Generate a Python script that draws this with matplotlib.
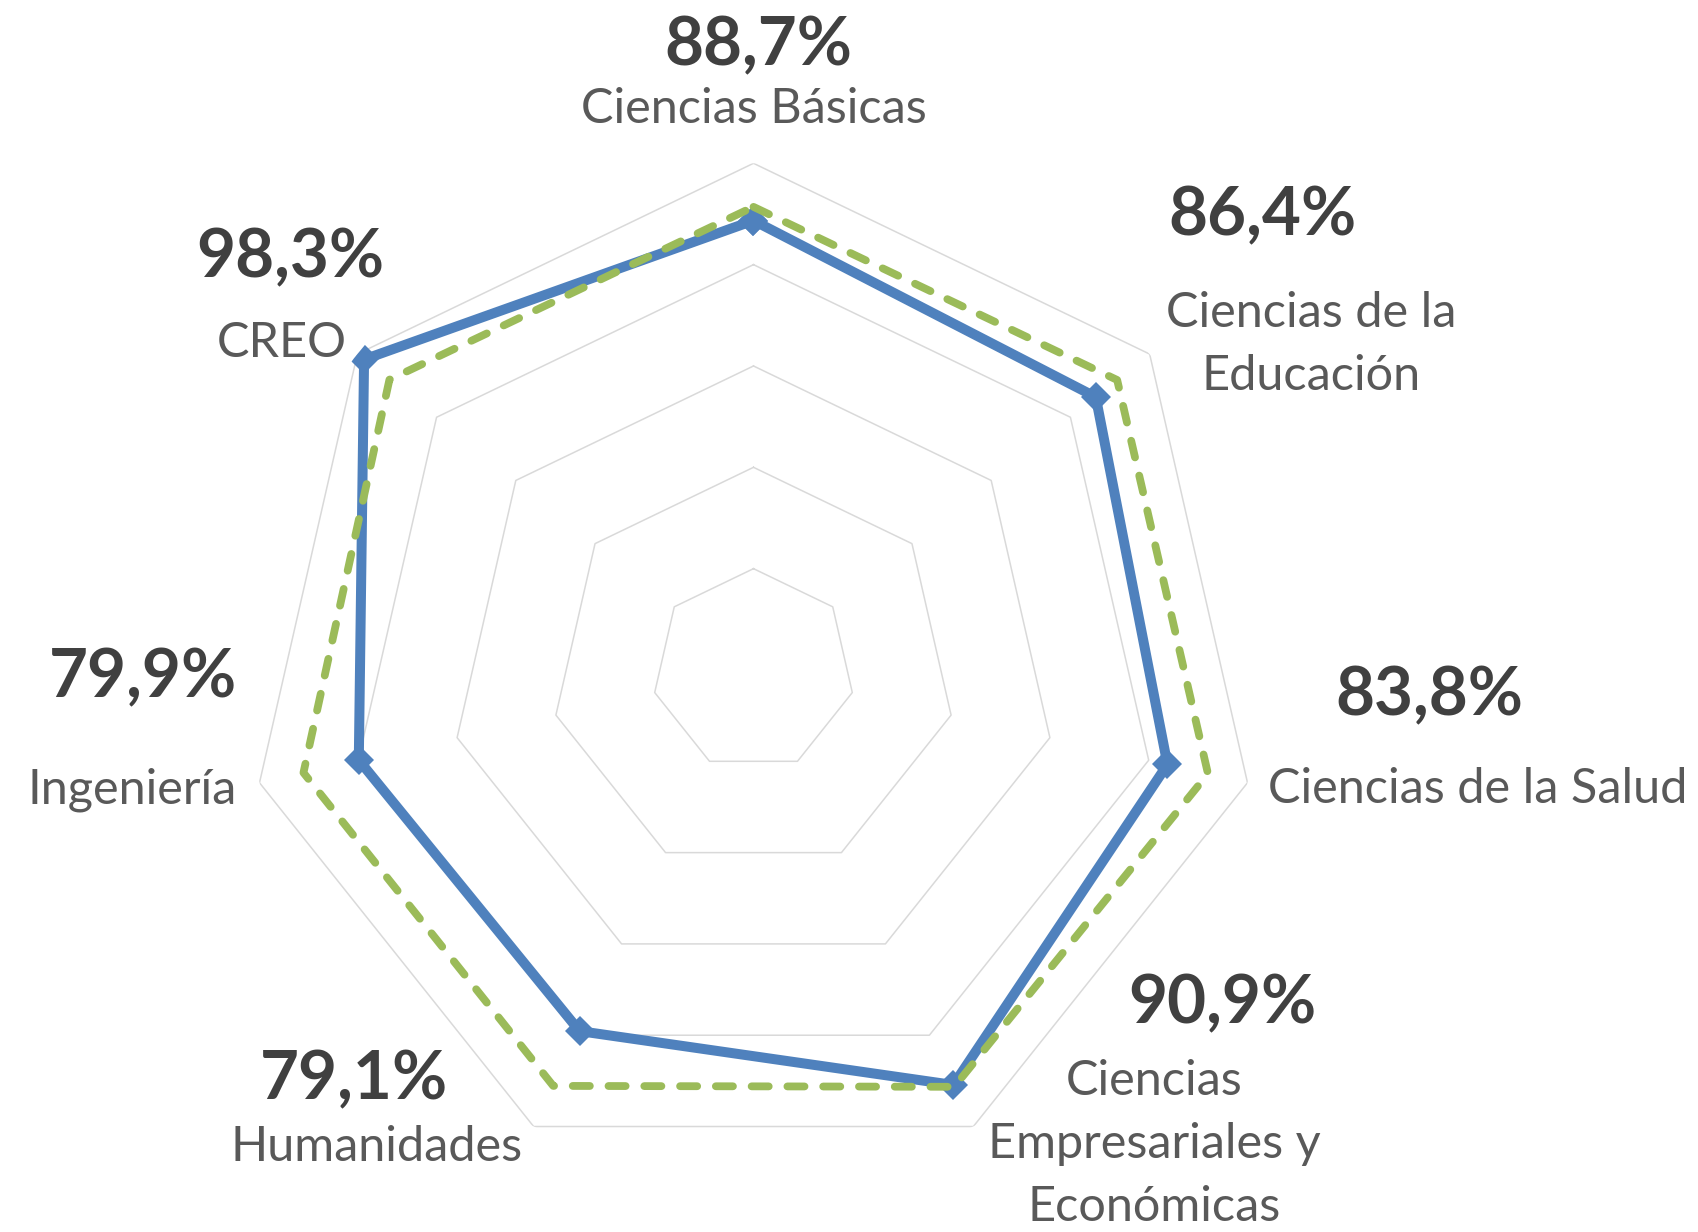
import numpy as np
import matplotlib
matplotlib.use("Agg")
import matplotlib.pyplot as plt

plt.rcParams['font.family'] = ['Lato', 'DejaVu Sans']

# data (clockwise from the top)
categorias = ["Ciencias Básicas", "Ciencias de la\nEducación", "Ciencias de la Salud",
              "Ciencias\nEmpresariales y\nEconómicas", "Humanidades", "Ingeniería", "CREO"]
valores = [88.7, 86.4, 83.8, 90.9, 79.1, 79.9, 98.3]
referencia = [91.4, 91.8, 92.0, 91.3, 91.1, 91.1, 91.9]
etiquetas = ["88,7%", "86,4%", "83,8%", "90,9%", "79,1%", "79,9%", "98,3%"]
niveles = [20, 40, 60, 80, 100]

W, H = 1699, 1232
fig = plt.figure(figsize=(W / 100, H / 100), dpi=100)

# polar axes placed so the centre / outer ring match the picture
cx, cy, R = 753.5, 670.0, 506.7
ax = fig.add_axes([(cx - R) / W, (H - cy - R) / H, 2 * R / W, 2 * R / H], projection='polar')
ax.set_theta_zero_location('N')
ax.set_theta_direction(-1)

n = len(valores)
ang = np.linspace(0, 2 * np.pi, n, endpoint=False)
ang_c = np.append(ang, ang[0])

for nv in niveles:
    ax.plot(ang_c, [nv] * (n + 1), color='#D9D9D9', lw=1.1, zorder=1)

ax.plot(ang_c, np.append(valores, valores[0]), color='#4F81BD', lw=7.2,
        marker='D', ms=15, mew=0, solid_joinstyle='round', zorder=3)
ax.plot(ang_c, np.append(referencia, referencia[0]), color='#9BBB59', lw=5.6,
        dashes=(2.2, 2.4), dash_capstyle='round', dash_joinstyle='round', zorder=4)

ax.set_ylim(0, 100)
ax.grid(False)
ax.set_xticks([])
ax.set_yticks([])
ax.spines['polar'].set_visible(False)
ax.patch.set_visible(False)

# label positions in pixels: (x, baseline y, ha) for percentage, category
pos_pct = [(758, 65, 'center'), (1263, 235, 'center'), (1429, 715, 'center'),
           (1222, 1023, 'center'), (354, 1099, 'center'), (237, 697, 'right'),
           (290, 277, 'center')]
pos_cat = [(754, 123, 'center'), (1311, 327, 'center'), (1478, 803, 'center'),
           (1154, 1095, 'center'), (377, 1161, 'center'), (237, 804, 'right'),
           (282, 357, 'center')]

for i in range(n):
    x, y, ha = pos_pct[i]
    fig.text(x / W, 1 - y / H, etiquetas[i], ha=ha, va='baseline',
             fontsize=48.5, fontweight='bold', color='#404040')
    x, y, ha = pos_cat[i]
    lineas = categorias[i].split("\n")
    for k, ln in enumerate(lineas):
        fig.text(x / W, 1 - (y + 63 * k) / H, ln, ha=ha, va='baseline',
                 fontsize=35, color='#595959')

fig.savefig("out.png", dpi=100, facecolor='white')
